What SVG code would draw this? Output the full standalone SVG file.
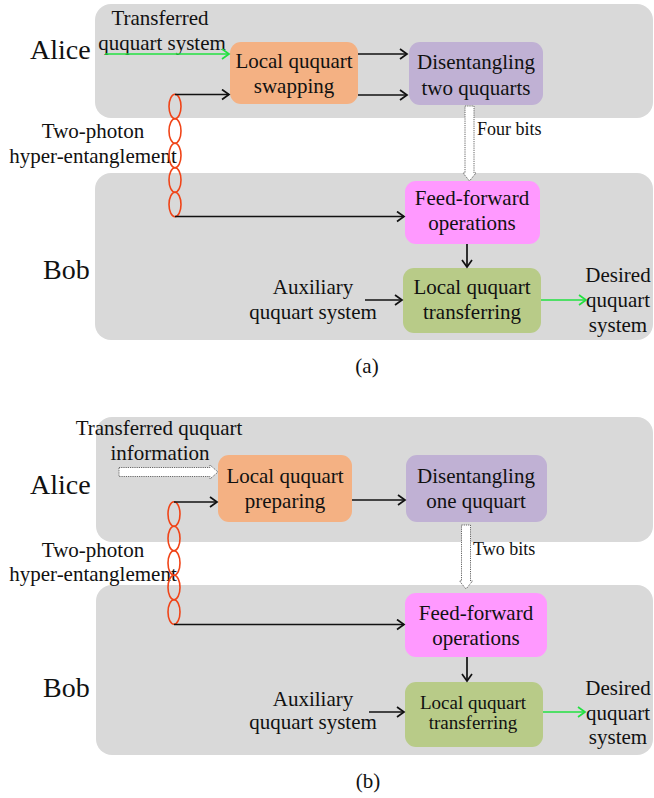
<svg xmlns="http://www.w3.org/2000/svg" width="654" height="798" viewBox="0 0 654 798" font-family="Liberation Serif, serif">
<style>
text{fill:#111;}
.t{font-size:21px;text-anchor:middle;}
.big{font-size:28px;}
.sm{font-size:18px;}
.bg{fill:#D9D9D9;}
.ln{stroke:#111;stroke-width:1.7;fill:none;}
.gr{stroke:#22E040;stroke-width:1.7;fill:none;}
.el{stroke:#F04418;stroke-width:1.6;fill:none;}
.ho{fill:#fff;stroke:#666;stroke-width:1;stroke-dasharray:1.2 1;}
</style>
<defs>
<marker id="ah" markerUnits="userSpaceOnUse" markerWidth="12" markerHeight="12" refX="0" refY="0" viewBox="-9 -6 10 12" orient="auto">
<path d="M-7,-5 L0,0 L-7,5" fill="none" stroke="#111" stroke-width="1.7"/>
</marker>
<marker id="ag" markerUnits="userSpaceOnUse" markerWidth="12" markerHeight="12" refX="0" refY="0" viewBox="-9 -6 10 12" orient="auto">
<path d="M-7,-5 L0,0 L-7,5" fill="none" stroke="#22E040" stroke-width="1.7"/>
</marker>
</defs>

<!-- Panel (a) -->
<g id="a-backgrounds">
<rect class="bg" x="95" y="4" width="558" height="114" rx="16"/>
<rect class="bg" x="95" y="173" width="558" height="167" rx="16"/>
</g>
<g id="a-labels">
<text class="big" x="30" y="59">Alice</text>
<text class="big" x="43" y="279">Bob</text>
<text class="t" x="160" y="25">Transferred</text>
<text class="t" x="162" y="50">ququart system</text>
<text class="t" x="93" y="138">Two-photon</text>
<text class="t" x="93" y="163">hyper-entanglement</text>
<text class="t" x="313" y="294">Auxiliary</text>
<text class="t" x="313" y="319">ququart system</text>
<text class="t" x="618" y="282">Desired</text>
<text class="t" x="618" y="307">ququart</text>
<text class="t" x="618" y="332">system</text>
<text class="sm" x="477" y="135">Four bits</text>
<text class="t" x="367" y="373">(a)</text>
</g>
<g id="a-swap">
<rect x="230" y="42" width="128" height="62" rx="11" fill="#F4B183"/>
<text class="t" x="294" y="68">Local ququart</text>
<text class="t" x="294" y="93">swapping</text>
</g>
<g id="a-disent">
<rect x="409" y="42" width="134" height="63" rx="11" fill="#C0B1D4"/>
<text class="t" x="476" y="69">Disentangling</text>
<text class="t" x="476" y="95">two ququarts</text>
</g>
<g id="a-feed">
<rect x="405" y="181" width="135" height="63" rx="11" fill="#FF99FF"/>
<text class="t" x="472" y="205">Feed-forward</text>
<text class="t" x="472" y="230">operations</text>
</g>
<g id="a-transfer">
<rect x="403" y="268" width="138" height="65" rx="11" fill="#B8CB88"/>
<text class="t" x="472" y="294">Local ququart</text>
<text class="t" x="472" y="319">transferring</text>
</g>
<g id="a-entangle">
<ellipse class="el" cx="175" cy="106.5" rx="6" ry="12.2"/>
<ellipse class="el" cx="175" cy="131" rx="6" ry="12.2"/>
<ellipse class="el" cx="175" cy="155.5" rx="6" ry="12.2"/>
<ellipse class="el" cx="175" cy="180" rx="6" ry="12.2"/>
<ellipse class="el" cx="175" cy="204.5" rx="6" ry="12.2"/>
</g>
<g id="a-connectors">
<path class="gr" d="M105,54 H229" marker-end="url(#ag)"/>
<path class="ln" d="M175,94.5 H229" marker-end="url(#ah)"/>
<path class="ln" d="M358,54 H407" marker-end="url(#ah)"/>
<path class="ln" d="M358,95 H407" marker-end="url(#ah)"/>
<path class="ln" d="M175,216.5 H404" marker-end="url(#ah)"/>
<path class="ln" d="M467,244 V267" marker-end="url(#ah)"/>
<path class="ln" d="M365,300 H402" marker-end="url(#ah)"/>
<path class="gr" d="M541,300 H586" marker-end="url(#ag)"/>
<path class="ho" d="M465,106 L474,106 L474,173 L476,173 L469.5,181 L463,173 L465,173 Z"/>
</g>

<!-- Panel (b) -->
<g id="b-backgrounds">
<rect class="bg" x="96" y="417" width="557" height="125" rx="16"/>
<rect class="bg" x="96" y="585" width="557" height="170" rx="16"/>
</g>
<g id="b-labels">
<text class="big" x="30" y="494">Alice</text>
<text class="big" x="43" y="697">Bob</text>
<text class="t" x="159" y="435">Transferred ququart</text>
<text class="t" x="160" y="460">information</text>
<text class="t" x="93" y="557">Two-photon</text>
<text class="t" x="93" y="581">hyper-entanglement</text>
<text class="t" x="313" y="706">Auxiliary</text>
<text class="t" x="313" y="729">ququart system</text>
<text class="t" x="618" y="695">Desired</text>
<text class="t" x="618" y="720">ququart</text>
<text class="t" x="618" y="744">system</text>
<text class="sm" x="473" y="555">Two bits</text>
<text class="t" x="368" y="788">(b)</text>
</g>
<g id="b-prep">
<rect x="218" y="455" width="134" height="67" rx="11" fill="#F4B183"/>
<text class="t" x="285" y="483">Local ququart</text>
<text class="t" x="285" y="508">preparing</text>
</g>
<g id="b-disent">
<rect x="406" y="455" width="141" height="67" rx="11" fill="#C0B1D4"/>
<text class="t" x="476" y="483">Disentangling</text>
<text class="t" x="476" y="508">one ququart</text>
</g>
<g id="b-feed">
<rect x="405" y="593" width="142" height="64" rx="11" fill="#FF99FF"/>
<text class="t" x="476" y="620">Feed-forward</text>
<text class="t" x="476" y="645">operations</text>
</g>
<g id="b-transfer">
<rect x="405" y="682" width="138" height="65" rx="11" fill="#B8CB88"/>
<text class="t" x="473" y="709" style="font-size:19px">Local ququart</text>
<text class="t" x="473" y="729" style="font-size:19px">transferring</text>
</g>
<g id="b-entangle">
<ellipse class="el" cx="174" cy="514" rx="6" ry="12.2"/>
<ellipse class="el" cx="174" cy="538.5" rx="6" ry="12.2"/>
<ellipse class="el" cx="174" cy="563" rx="6" ry="12.2"/>
<ellipse class="el" cx="174" cy="587.5" rx="6" ry="12.2"/>
<ellipse class="el" cx="174" cy="612" rx="6" ry="12.2"/>
</g>
<g id="b-connectors">
<path class="ho" d="M119,467.5 L210,467.5 L210,465 L218,472 L210,479 L210,476.5 L119,476.5 Z"/>
<path class="ln" d="M174,502 H217" marker-end="url(#ah)"/>
<path class="ln" d="M352,500 H405" marker-end="url(#ah)"/>
<path class="ln" d="M174,624.5 H404" marker-end="url(#ah)"/>
<path class="ln" d="M467,657 V681" marker-end="url(#ah)"/>
<path class="ln" d="M369,712 H404" marker-end="url(#ah)"/>
<path class="gr" d="M543,712 H585" marker-end="url(#ag)"/>
<path class="ho" d="M461.5,525 L470.5,525 L470.5,581 L472.5,581 L466,589 L459.5,581 L461.5,581 Z"/>
</g>
</svg>
